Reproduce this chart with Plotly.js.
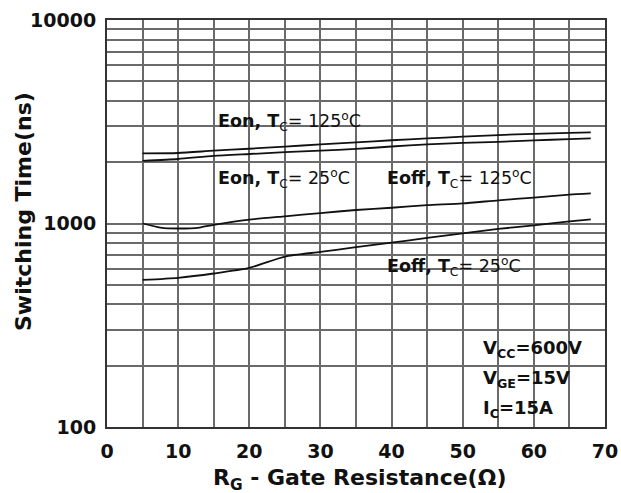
<!DOCTYPE html>
<html>
<head>
<meta charset="utf-8">
<script src="https://cdn.plot.ly/plotly-3.0.1.min.js"></script>
<style>html,body{margin:0;padding:0;background:#fff;}#chart{width:621px;height:493px;}</style>
</head>
<body>
<div id="chart"></div>
<script>
// ---- data ----
const rgEon = [5, 10, 15, 20, 25, 30, 35, 40, 45, 50, 55, 60, 65, 68];
const eon125 = [2210, 2220, 2280, 2330, 2385, 2450, 2505, 2565, 2620, 2670, 2720, 2760, 2790, 2805];
const eon25  = [2030, 2075, 2150, 2195, 2240, 2280, 2325, 2390, 2450, 2490, 2520, 2560, 2600, 2620];
const rgEoff125 = [5, 7.5, 10, 13, 15, 20, 25, 30, 35, 40, 45, 50, 55, 60, 65, 68];
const eoff125 = [1000, 955, 945, 955, 985, 1045, 1085, 1125, 1165, 1195, 1230, 1255, 1300, 1340, 1385, 1405];
const rgEoff25 = [5, 10, 15, 20, 25, 30, 35, 40, 45, 50, 55, 60, 65, 68];
const eoff25 = [528, 541, 568, 605, 688, 725, 765, 805, 850, 895, 940, 980, 1025, 1048];

const xTickVals = [0, 10, 20, 30, 40, 50, 60, 70];
const xTickText = ['0', '10', '20', '30', '40', '50', '60', '70'];
const xMinorVals = [5, 15, 25, 35, 45, 55, 65];
const yTickVals = [100, 1000, 10000];
const yTickText = ['100', '1000', '10000'];
const yMinorVals = [200, 300, 400, 500, 600, 700, 800, 900,
                    2000, 3000, 4000, 5000, 6000, 7000, 8000, 9000];

const curveLabels = [
  '<b>Eon, T</b><sub>C</sub>= 125<sup>o</sup>C',
  '<b>Eon, T</b><sub>C</sub>= 25<sup>o</sup>C',
  '<b>Eoff, T</b><sub>C</sub>= 125<sup>o</sup>C',
  '<b>Eoff, T</b><sub>C</sub>= 25<sup>o</sup>C'
];
const condLabels = ['V<sub>CC</sub>=600V', 'V<sub>GE</sub>=15V', 'I<sub>C</sub>=15A'];

// ---- layout helpers (pixel -> paper) ----
const L = 107, R = 605, T = 20, B = 427;
const px = v => (v - L) / (R - L);
const py = v => (B - v) / (B - T);

const lineStyle = {color: '#111', width: 1.8, shape: 'spline', smoothing: 0.6};
const traces = [
  {x: rgEon, y: eon125, mode: 'lines', line: lineStyle, hoverinfo: 'skip'},
  {x: rgEon, y: eon25, mode: 'lines', line: lineStyle, hoverinfo: 'skip'},
  {x: rgEoff125, y: eoff125, mode: 'lines', line: lineStyle, hoverinfo: 'skip'},
  {x: rgEoff25, y: eoff25, mode: 'lines', line: lineStyle, hoverinfo: 'skip'}
];

const tickFont = {family: 'DejaVu Sans', size: 19, color: '#111', weight: 'bold'};
const lblFont = {family: 'DejaVu Sans', size: 17.5, color: '#111'};
const condFont = {family: 'DejaVu Sans', size: 18, color: '#111', weight: 'bold'};
const gridCol = '#6a6a6a';
const gridW = 2;

function box(x0, x1, y0, y1) {
  return {type: 'rect', xref: 'paper', yref: 'paper', layer: 'between',
          x0: px(x0), x1: px(x1), y0: py(y1), y1: py(y0),
          fillcolor: '#fff', line: {width: 0}};
}

const annotations = [
  {text: curveLabels[0], x: px(216), y: py(121), xanchor: 'left', yanchor: 'middle'},
  {text: curveLabels[1], x: px(216), y: py(178), xanchor: 'left', yanchor: 'middle'},
  {text: curveLabels[2], x: px(385), y: py(179), xanchor: 'left', yanchor: 'middle'},
  {text: curveLabels[3], x: px(385), y: py(266), xanchor: 'left', yanchor: 'middle'}
].map(a => Object.assign(a, {xref: 'paper', yref: 'paper', showarrow: false, font: lblFont}));

const condY = [349, 379, 409];
condLabels.forEach((t, i) => annotations.push({
  text: t, xref: 'paper', yref: 'paper', x: px(481), y: py(condY[i]),
  xanchor: 'left', yanchor: 'middle', showarrow: false, font: condFont
}));

annotations.push({
  text: 'Switching Time(ns)', xref: 'paper', yref: 'paper', x: px(23), y: py(212),
  xanchor: 'center', yanchor: 'middle', textangle: -90, showarrow: false,
  font: {family: 'DejaVu Sans', size: 22, color: '#111', weight: 'bold'}
});
annotations.push({
  text: 'R<sub>G</sub> - Gate Resistance(Ω)', xref: 'paper', yref: 'paper', x: px(359), y: py(479),
  xanchor: 'center', yanchor: 'middle', showarrow: false,
  font: {family: 'DejaVu Sans', size: 22, color: '#111', weight: 'bold'}
});

const layout = {
  width: 621, height: 493,
  margin: {l: L, r: 621 - R, t: T, b: 493 - B, pad: 0},
  paper_bgcolor: '#fff', plot_bgcolor: '#fff',
  showlegend: false,
  xaxis: {
    range: [0, 70], tickvals: xTickVals, ticktext: xTickText,
    showgrid: true, gridcolor: gridCol, gridwidth: gridW, zeroline: false,
    minor: {tickvals: xMinorVals, showgrid: true, gridcolor: gridCol, gridwidth: gridW, ticks: ''},
    showline: true, mirror: true, linecolor: '#333', linewidth: 2,
    ticks: '', ticklabelstandoff: 6, tickfont: tickFont, fixedrange: true
  },
  yaxis: {
    type: 'log', range: [2, 4], tickvals: yTickVals, ticktext: yTickText,
    showgrid: true, gridcolor: gridCol, gridwidth: gridW, zeroline: false,
    minor: {tickvals: yMinorVals, showgrid: true, gridcolor: gridCol, gridwidth: gridW, ticks: ''},
    showline: true, mirror: true, linecolor: '#333', linewidth: 2,
    ticks: '', ticklabelstandoff: 5, tickfont: tickFont, fixedrange: true
  },
  shapes: [
    box(212, 385, 104, 138),
    box(212, 378, 161, 196),
    box(381, 545, 165, 195),
    box(382, 542, 250, 279),
    box(478, 604, 333, 426)
  ],
  annotations: annotations
};

Plotly.newPlot('chart', traces, layout, {staticPlot: true, displayModeBar: false});
</script>
</body>
</html>
